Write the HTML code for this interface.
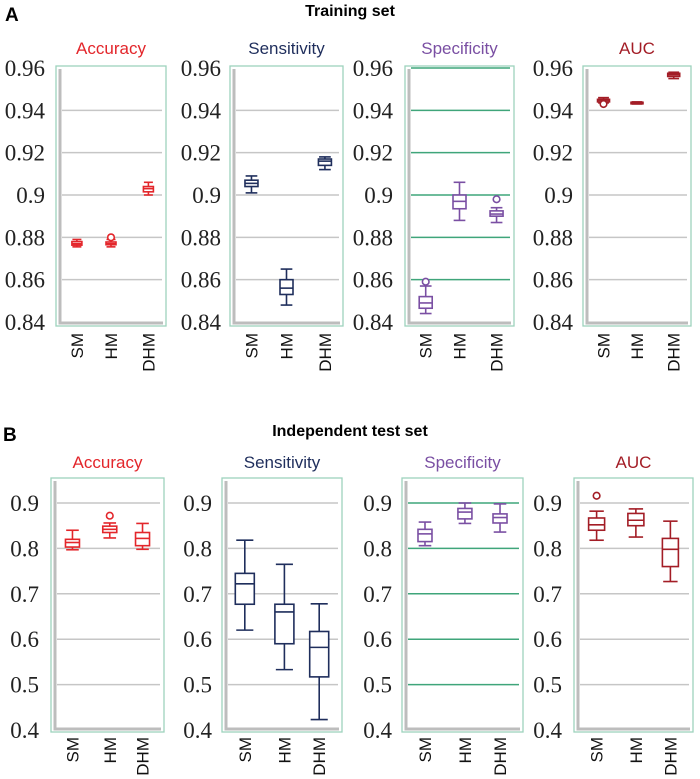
<!DOCTYPE html>
<html><head><meta charset="utf-8"><style>
html,body{margin:0;padding:0;background:#fff;}
svg{display:block;}
</style></head><body>
<svg id="chart" width="700" height="779" viewBox="0 0 700 779" xmlns="http://www.w3.org/2000/svg">
<text x="5" y="21" font-family="Liberation Sans, sans-serif" font-weight="bold" font-size="19">A</text>
<text x="350" y="16" text-anchor="middle" font-family="Liberation Sans, sans-serif" font-weight="bold" font-size="16">Training set</text>
<text x="3" y="441" font-family="Liberation Sans, sans-serif" font-weight="bold" font-size="19">B</text>
<text x="350" y="436" text-anchor="middle" font-family="Liberation Sans, sans-serif" font-weight="bold" font-size="16">Independent test set</text>
</svg>
<script>
const categories = ["SM","HM","DHM"];
const metricNames = ["Accuracy","Sensitivity","Specificity","AUC"];
const ticksA = ["0.96","0.94","0.92","0.9","0.88","0.86","0.84"];
const tickValsA = [0.96,0.94,0.92,0.90,0.88,0.86,0.84];
const ticksB = ["0.9","0.8","0.7","0.6","0.5","0.4"];
const tickValsB = [0.9,0.8,0.7,0.6,0.5,0.4];
// [whiskerLow, q1, median, q3, whiskerHigh]
const trainAccuracy = [[0.8755,0.8763,0.877,0.878,0.879],[0.8755,0.8765,0.877,0.8778,0.879],[0.900,0.9015,0.903,0.904,0.906]];
const trainAccuracyOut = [[],[0.880],[]];
const trainSensitivity = [[0.901,0.904,0.9055,0.907,0.909],[0.848,0.853,0.856,0.860,0.865],[0.912,0.914,0.916,0.917,0.918]];
const trainSensitivityOut = [[],[],[]];
const trainSpecificity = [[0.844,0.8465,0.849,0.852,0.857],[0.888,0.8935,0.897,0.900,0.906],[0.887,0.890,0.891,0.8925,0.894]];
const trainSpecificityOut = [[0.859],[],[0.898]];
const trainAUC = [[0.9435,0.944,0.9448,0.9452,0.946],[0.943,0.9432,0.9435,0.9438,0.944],[0.955,0.956,0.9568,0.9575,0.958]];
const trainAUCOut = [[0.943],[],[]];
const testAccuracy = [[0.797,0.803,0.813,0.820,0.840],[0.823,0.835,0.842,0.849,0.856],[0.798,0.806,0.822,0.835,0.855]];
const testAccuracyOut = [[],[0.872],[]];
const testSensitivity = [[0.620,0.677,0.722,0.745,0.818],[0.533,0.590,0.660,0.677,0.765],[0.423,0.517,0.582,0.617,0.678]];
const testSensitivityOut = [[],[],[]];
const testSpecificity = [[0.806,0.815,0.832,0.842,0.858],[0.855,0.865,0.880,0.888,0.900],[0.836,0.856,0.868,0.876,0.898]];
const testSpecificityOut = [[],[],[]];
const testAUC = [[0.818,0.840,0.852,0.867,0.882],[0.825,0.850,0.862,0.877,0.887],[0.727,0.760,0.798,0.822,0.860]];
const testAUCOut = [[0.916],[],[]];

const NS="http://www.w3.org/2000/svg";
const svg=document.getElementById('chart');
function mk(tag,attrs,parent){const e=document.createElementNS(NS,tag);for(const k in attrs)e.setAttribute(k,attrs[k]);(parent||svg).appendChild(e);return e;}
const colors=["#e3262b","#1f2e5c","#7a4fa3","#a31d26"];
const gridCols=["#c6c6c6","#c6c6c6","#3fa57a","#c6c6c6"];

const panels=[
 {set:"train",metric:0,data:trainAccuracy,out:trainAccuracyOut,fx:56,fw:110,lab:45,bw:10},
 {set:"train",metric:1,data:trainSensitivity,out:trainSensitivityOut,fx:230,fw:113,lab:221,bw:13},
 {set:"train",metric:2,data:trainSpecificity,out:trainSpecificityOut,fx:405,fw:109,lab:393,bw:13},
 {set:"train",metric:3,data:trainAUC,out:trainAUCOut,fx:583,fw:108,lab:573,bw:12},
 {set:"test",metric:0,data:testAccuracy,out:testAccuracyOut,fx:51,fw:113,lab:39,bw:14},
 {set:"test",metric:1,data:testSensitivity,out:testSensitivityOut,fx:222,fw:120,lab:212,bw:19},
 {set:"test",metric:2,data:testSpecificity,out:testSpecificityOut,fx:402,fw:121,lab:392,bw:14},
 {set:"test",metric:3,data:testAUC,out:testAUCOut,fx:574,fw:119,lab:562,bw:16}
];
const offsA=[0.19,0.50,0.84], offsB=[0.19,0.52,0.81];

panels.forEach(p=>{
  const train=p.set==="train";
  const top=train?66:478, bot=train?326:732;
  const y=train? v=>68+(0.96-v)/0.12*254 : v=>503+(0.9-v)/0.5*227;
  const ticks=train?ticksA:ticksB, tv=train?tickValsA:tickValsB;
  const offs=train?offsA:offsB;
  const col=colors[p.metric];
  const g=mk('g',{});
  
  
  const t=mk('text',{x:p.fx+p.fw/2,y:train?54:468,'text-anchor':'middle','font-family':'Liberation Sans, sans-serif','font-size':17,fill:col},g);
  t.textContent=metricNames[p.metric];
  
  
  const fr=mk('rect',{x:p.fx,y:top,width:p.fw,height:bot-top,fill:'none',stroke:'#9dd2bd','stroke-width':1.3},g);
  
  
  tv.forEach((v,i)=>{
    const yy=y(v);
    if(i>0 && i<tv.length-1 || (!train && i===0) || (train && p.metric===2 && i===0)){
      const gl=mk('line',{x1:p.fx+6,x2:p.fx+p.fw-4,y1:yy,y2:yy,stroke:gridCols[p.metric],'stroke-width':1.5},g);
      
      
    }
    const tl=mk('text',{x:p.lab,y:yy+8,'text-anchor':'end','font-family':'Liberation Serif, serif','font-size':23,fill:'#222'},g);
    tl.textContent=ticks[i];
    
    
  });
  const ax=mk('path',{d:`M${p.fx+4} ${top+3} V${bot-3} H${p.fx+p.fw-3}`,fill:'none',stroke:'#bdbdbd','stroke-width':3},g);
  
  
  categories.forEach((c,ci)=>{
    const cx=p.fx+offs[ci]*p.fw;
    const d=p.data[ci], w=p.bw, cw=w*0.45;
    const bg=mk('g',{stroke:col,'stroke-width':1.6,fill:'none'},g);
    
    
    mk('line',{x1:cx,x2:cx,y1:y(d[0]),y2:y(d[1])},bg);
    mk('line',{x1:cx,x2:cx,y1:y(d[3]),y2:y(d[4])},bg);
    mk('line',{x1:cx-cw,x2:cx+cw,y1:y(d[0]),y2:y(d[0])},bg);
    mk('line',{x1:cx-cw,x2:cx+cw,y1:y(d[4]),y2:y(d[4])},bg);
    const h=Math.max(y(d[1])-y(d[3]),1.5);
    mk('rect',{x:cx-w/2,y:y(d[3]),width:w,height:h,fill:'#fff'},bg);
    mk('line',{x1:cx-w/2,x2:cx+w/2,y1:y(d[2]),y2:y(d[2])},bg);
    p.out[ci].forEach(o=>{
      const oc=mk('circle',{cx:cx,cy:y(o),r:3.3,fill:'#fff'},bg);
      
      
    });
    const ly=train?333:737;
    const xl=mk('text',{x:0,y:0,'text-anchor':'end','font-family':'Liberation Sans, sans-serif','font-size':17,fill:'#111',transform:`translate(${cx+6},${ly}) rotate(-90)`},g);
    xl.textContent=c;
    
    
  });
});
</script>
</body></html>
